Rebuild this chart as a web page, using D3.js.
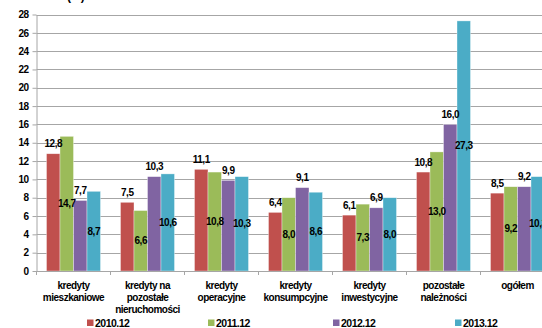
<!DOCTYPE html>
<html>
<head>
<meta charset="utf-8">
<script src="https://cdn.jsdelivr.net/npm/d3@7"></script>
<style>
  body { margin: 0; background: #fff; }
  svg text { font-family: "Liberation Sans Narrow", "Arial Narrow", "Liberation Sans", Arial, sans-serif; font-weight: bold; fill: #000; letter-spacing: -0.5px; }
</style>
</head>
<body>
<div id="chart"></div>
<script>
// Data
var categories = [
    ['kredyty', 'mieszkaniowe'],
    ['kredyty na', 'pozostałe', 'nieruchomości'],
    ['kredyty', 'operacyjne'],
    ['kredyty', 'konsumpcyjne'],
    ['kredyty', 'inwestycyjne'],
    ['pozostałe', 'należności'],
    ['ogółem']
];
var seriesNames = ['2010.12', '2011.12', '2012.12', '2013.12'];
var v2010 = [12.8, 7.5, 11.1, 6.4, 6.1, 10.8, 8.5];
var v2011 = [14.7, 6.6, 10.8, 8.0, 7.3, 13.0, 9.2];
var v2012 = [7.7, 10.3, 9.9, 9.1, 6.9, 16.0, 9.2];
var v2013 = [8.7, 10.6, 10.3, 8.6, 8.0, 27.3, 10.3];
var yTicks = d3.range(0, 29, 2);
var colors = ['#C0504D', '#9BBB59', '#8064A2', '#4BACC6'];

var series = [v2010, v2011, v2012, v2013];
var width = 542, height = 328;
var margin = {top: 14.5, left: 36.5};
var bandW = 74;
var plotBottom = 271;

var svg = d3.select('#chart').append('svg')
    .attr('width', width)
    .attr('height', height);

// Scales
var x = d3.scaleBand()
    .domain(d3.range(categories.length))
    .range([margin.left, margin.left + bandW * categories.length])
    .padding(0);
var xs = d3.scaleBand()
    .domain(d3.range(series.length))
    .range([10, 64])
    .padding(0);
var y = d3.scaleLinear().domain([0, 28]).range([plotBottom, margin.top]);

// Cropped title remnant
svg.append('text')
    .attr('x', 67)
    .attr('y', -0.5)
    .style('font-size', '12px')
    .text('(%)');

// Gridlines
svg.append('g').selectAll('line')
    .data(yTicks.filter(function(d) { return d > 0; }))
    .enter().append('line')
    .attr('x1', margin.left)
    .attr('x2', width)
    .attr('y1', function(d) { return Math.round(y(d)) + 0.5; })
    .attr('y2', function(d) { return Math.round(y(d)) + 0.5; })
    .attr('stroke', '#a6a6a6')
    .attr('stroke-width', 1);

// Bars
var groups = svg.append('g').selectAll('g')
    .data(series)
    .enter().append('g')
    .attr('fill', function(d, i) { return colors[i]; });
groups.selectAll('rect')
    .data(function(d, si) { return d.map(function(v, ci) { return {v: v, s: si, c: ci}; }); })
    .enter().append('rect')
    .attr('x', function(d) { return x(d.c) + xs(d.s); })
    .attr('width', xs.bandwidth())
    .attr('y', function(d) { return y(d.v); })
    .attr('height', function(d) { return y(0) - y(d.v); })
    .attr('stroke', '#fff')
    .attr('stroke-opacity', 0.6)
    .attr('stroke-width', 0.6);

// Value labels: 2010 & 2012 above the bar, 2011 & 2013 in the middle
var labels = svg.append('g');
series.forEach(function(vals, si) {
    vals.forEach(function(v, ci) {
        var inside = si % 2 === 1;
        labels.append('text')
            .attr('x', x(ci) + xs(si) + xs.bandwidth() / 2)
            .attr('y', inside ? (y(v) + y(0)) / 2 : y(v) - 10)
            .attr('dy', '0.35em')
            .attr('text-anchor', 'middle')
            .style('font-size', '10px')
            .text(d3.format('.1f')(v).replace('.', ','));
    });
});

// Y axis
var yAxis = svg.append('g')
    .attr('transform', 'translate(' + margin.left + ',0)')
    .call(d3.axisLeft(y).tickValues(yTicks).tickSize(4).tickSizeOuter(0).tickFormat(d3.format('d')));
yAxis.select('.domain').attr('stroke', '#a6a6a6');
yAxis.selectAll('.tick line').attr('stroke', '#a6a6a6');
yAxis.selectAll('.tick text').attr('x', -8).style('font-size', '10px').style('font-family', null);

// X axis
svg.append('line')
    .attr('x1', margin.left).attr('x2', width)
    .attr('y1', plotBottom + 0.5).attr('y2', plotBottom + 0.5)
    .attr('stroke', '#a6a6a6');
svg.append('g').selectAll('line')
    .data(d3.range(categories.length))
    .enter().append('line')
    .attr('x1', function(d) { return x(d); })
    .attr('x2', function(d) { return x(d); })
    .attr('y1', plotBottom)
    .attr('y2', plotBottom + 4)
    .attr('stroke', '#a6a6a6');

// Category labels
var catLabels = svg.append('g').selectAll('text')
    .data(categories)
    .enter().append('text')
    .attr('text-anchor', 'middle')
    .attr('x', function(d, i) { return x(i) + bandW / 2; })
    .attr('y', 288.5)
    .style('font-size', '10px');
catLabels.selectAll('tspan')
    .data(function(d) { return d; })
    .enter().append('tspan')
    .attr('x', function() { return d3.select(this.parentNode).attr('x'); })
    .attr('dy', function(d, i) { return i === 0 ? 0 : 12.3; })
    .text(function(d) { return d; });

// Legend
var legendX = [87, 208, 333, 455];
var legend = svg.append('g').selectAll('g')
    .data(seriesNames)
    .enter().append('g')
    .attr('transform', function(d, i) { return 'translate(' + legendX[i] + ',319.5)'; });
legend.append('rect')
    .attr('width', 6.5).attr('height', 6.5)
    .attr('fill', function(d, i) { return colors[i]; });
legend.append('text')
    .attr('x', 8)
    .attr('y', 7)
    .style('font-size', '10.5px')
    .text(function(d) { return d; });
</script>
</body>
</html>
